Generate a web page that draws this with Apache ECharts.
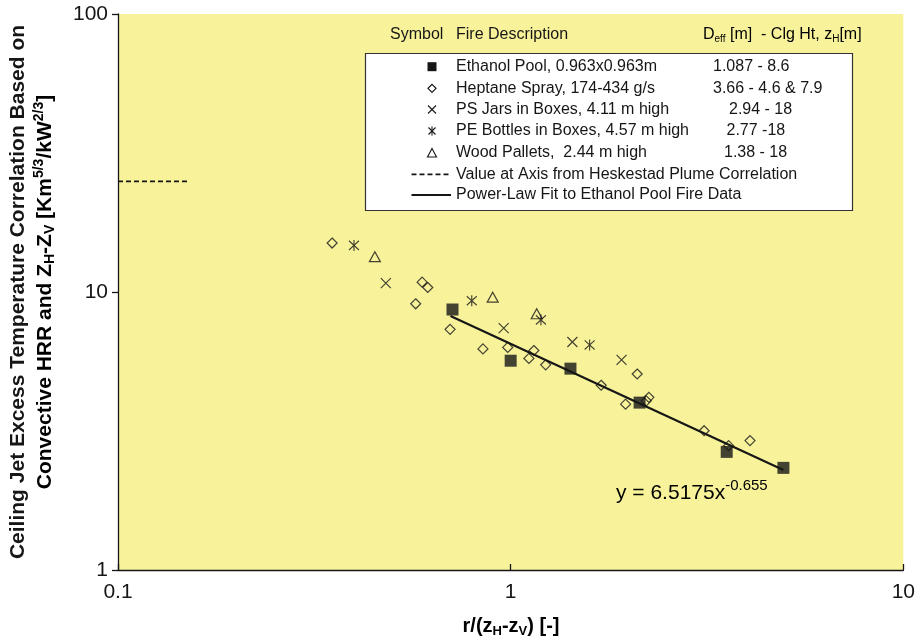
<!DOCTYPE html>
<html><head><meta charset="utf-8">
<script src="https://cdn.jsdelivr.net/npm/echarts@6/dist/echarts.min.js"></script>
<style>html,body{margin:0;padding:0;background:#fff}#c{width:918px;height:640px}</style>
</head><body><div id="c"></div>
<script>
// Data
const ethanolX = [0.711, 1.0, 1.42, 2.13, 3.55, 4.95];
const ethanolY = [8.65, 5.66, 5.30, 4.00, 2.66, 2.33];
const heptaneX = [0.351, 0.595, 0.615, 0.573, 0.701, 0.850, 0.983, 1.146, 1.113, 1.228, 1.70, 2.10, 1.962, 2.249, 2.215, 3.11, 3.59, 4.07];
const heptaneY = [15.0, 10.85, 10.38, 9.07, 7.34, 6.24, 6.32, 6.16, 5.77, 5.47, 4.62, 5.07, 3.95, 4.18, 4.06, 3.17, 2.80, 2.92];
const psX = [0.481, 0.960, 1.436, 1.916];
const psY = [10.76, 7.41, 6.61, 5.70];
const peX = [0.399, 0.796, 1.194, 1.589];
const peY = [14.71, 9.30, 7.94, 6.45];
const woodX = [0.451, 0.900, 1.165];
const woodY = [13.4, 9.58, 8.35];
const heskX = [0.1, 0.15];
const heskY = [25, 25];
const fitX = [0.7026, 4.95];
const fitY = [8.19, 2.29];
const xTicks = [0.1, 1, 10];
const yTicks = [1, 10, 100];
const legendRows = [
  ['Ethanol Pool, 0.963x0.963m', '1.087 - 8.6'],
  ['Heptane Spray, 174-434 g/s', '3.66 - 4.6 & 7.9'],
  ['PS Jars in Boxes, 4.11 m high', '2.94 - 18'],
  ['PE Bottles in Boxes, 4.57 m high', '2.77 -18'],
  ['Wood Pallets,  2.44 m high', '1.38 - 18'],
  ['Value at Axis from Heskestad Plume Correlation', ''],
  ['Power-Law Fit to Ethanol Pool Fire Data', '']
];

const zip = (a, b) => a.map((v, i) => [v, b[i]]);
const FONT = '"Liberation Sans", Arial, Helvetica, sans-serif';
const INK = '#161616';
const crossPath = 'path://M0,0L10,10M10,0L0,10';
const starPath = 'path://M0,0L10,10M10,0L0,10M5,-1L5,11';

const chart = echarts.init(document.getElementById('c'), null, {renderer: 'canvas'});

const rowY = [66.7, 88.3, 109.5, 131, 153, 174.3, 195];
const rangeX = [713, 713, 729, 726.5, 724];
const symX = 432;
const LF = '16px ' + FONT;
const g = [];
g.push({type: 'rect', shape: {x: 365.5, y: 53.5, width: 487, height: 157}, style: {fill: '#fff', stroke: '#333', lineWidth: 1.2}, z: 10});
g.push({type: 'text', x: 390, y: 35, style: {text: 'Symbol', font: LF, fill: INK, verticalAlign: 'middle'}, z: 11});
g.push({type: 'text', x: 456, y: 35, style: {text: 'Fire Description', font: LF, fill: INK, verticalAlign: 'middle'}, z: 11});
g.push({type: 'text', x: 703, y: 35, style: {
  text: '{n|D}{s|eff}{n| [m]  - Clg Ht, z}{s|H}{n|[m]}', verticalAlign: 'middle',
  rich: {n: {fontSize: 16, fontFamily: FONT, color: INK}, s: {fontSize: 10, fontFamily: FONT, color: INK, padding: [9, 0, 0, 0]}}
}, z: 11});
legendRows.forEach((r, i) => {
  g.push({type: 'text', x: 456, y: rowY[i], style: {text: r[0], font: LF, fill: INK, verticalAlign: 'middle'}, z: 11});
  if (r[1]) g.push({type: 'text', x: rangeX[i], y: rowY[i], style: {text: r[1], font: LF, fill: INK, verticalAlign: 'middle'}, z: 11});
});
// legend symbols
g.push({type: 'rect', shape: {x: symX - 4.5, y: rowY[0] - 4.5, width: 9, height: 9}, style: {fill: INK}, z: 11});
g.push({type: 'polygon', shape: {points: [[symX, rowY[1] - 4], [symX + 4, rowY[1]], [symX, rowY[1] + 4], [symX - 4, rowY[1]]]}, style: {fill: 'none', stroke: INK, lineWidth: 1.2}, z: 11});
g.push({type: 'polyline', shape: {points: [[symX - 4, rowY[2] - 4], [symX + 4, rowY[2] + 4]]}, style: {stroke: INK, lineWidth: 1.1}, z: 11});
g.push({type: 'polyline', shape: {points: [[symX + 4, rowY[2] - 4], [symX - 4, rowY[2] + 4]]}, style: {stroke: INK, lineWidth: 1.1}, z: 11});
g.push({type: 'polyline', shape: {points: [[symX - 3.5, rowY[3] - 3.5], [symX + 3.5, rowY[3] + 3.5]]}, style: {stroke: INK, lineWidth: 1.1}, z: 11});
g.push({type: 'polyline', shape: {points: [[symX + 3.5, rowY[3] - 3.5], [symX - 3.5, rowY[3] + 3.5]]}, style: {stroke: INK, lineWidth: 1.1}, z: 11});
g.push({type: 'polyline', shape: {points: [[symX, rowY[3] - 4.5], [symX, rowY[3] + 4.5]]}, style: {stroke: INK, lineWidth: 1.1}, z: 11});
g.push({type: 'polygon', shape: {points: [[symX, rowY[4] - 4.5], [symX + 4.5, rowY[4] + 4], [symX - 4.5, rowY[4] + 4]]}, style: {fill: 'none', stroke: INK, lineWidth: 1.1}, z: 11});
g.push({type: 'polyline', shape: {points: [[411.5, rowY[5]], [451, rowY[5]]]}, style: {stroke: INK, lineWidth: 1.8, lineDash: [5, 3]}, z: 11});
g.push({type: 'polyline', shape: {points: [[411.5, rowY[6]], [451, rowY[6]]]}, style: {stroke: INK, lineWidth: 2}, z: 11});
// equation
g.push({type: 'text', x: 616, y: 493, style: {
  text: '{a|y = 6.5175x}{b|-0.655}', verticalAlign: 'middle',
  rich: {a: {fontSize: 21, fontFamily: FONT, color: INK}, b: {fontSize: 15, fontFamily: FONT, color: INK, padding: [0, 0, 14, 0]}}
}, z: 11});
// y axis title (two lines)
g.push({type: 'text', x: 18, y: 292, rotation: Math.PI / 2, style: {
  text: 'Ceiling Jet Excess Temperature Correlation Based on', font: 'bold 21px ' + FONT, fill: INK, align: 'center', verticalAlign: 'middle'}, z: 11});
g.push({type: 'text', x: 45, y: 292, rotation: Math.PI / 2, style: {
  text: '{n|Convective HRR and Z}{s|H}{n|-Z}{s|V}{n| [Km}{p|5/3}{n|/kW}{p|2/3}{n|]}', align: 'center', verticalAlign: 'middle',
  rich: {n: {fontSize: 21, fontWeight: 'bold', fontFamily: FONT, color: INK},
         s: {fontSize: 14, fontWeight: 'bold', fontFamily: FONT, color: INK, padding: [10, 0, 0, 0]},
         p: {fontSize: 14, fontWeight: 'bold', fontFamily: FONT, color: INK, padding: [0, 0, 11, 0]}}
}, z: 11});
// x axis title
g.push({type: 'text', x: 511, y: 626, style: {
  text: '{n|r/(z}{s|H}{n|-z}{s|V}{n|) [-]}', align: 'center', verticalAlign: 'middle',
  rich: {n: {fontSize: 20, fontWeight: 'bold', fontFamily: FONT, color: INK},
         s: {fontSize: 13, fontWeight: 'bold', fontFamily: FONT, color: INK, padding: [10, 0, 0, 0]}}
}, z: 11});

const sym = {color: 'transparent', borderColor: INK, borderWidth: 1.2};
chart.setOption({
  animation: false,
  grid: {left: 118, right: 14, top: 14, bottom: 70, show: true, backgroundColor: '#f8f39b', borderWidth: 0},
  xAxis: {type: 'log', logBase: 10, min: 0.1, max: 10,
    axisLine: {show: true, lineStyle: {color: INK, width: 1.3}},
    axisTick: {show: true, inside: true, length: 6, lineStyle: {color: INK, width: 1.3}},
    minorTick: {show: false}, splitLine: {show: false},
    axisLabel: {margin: 12, fontSize: 21, fontFamily: FONT, color: INK,
      formatter: v => { const t = xTicks.find(k => Math.abs(k - v) / k < 1e-6); return t === undefined ? '' : String(t); }}},
  yAxis: {type: 'log', logBase: 10, min: 1, max: 100,
    axisLine: {show: true, lineStyle: {color: INK, width: 1.3}},
    axisTick: {show: true, inside: false, length: 6, lineStyle: {color: INK, width: 1.3}},
    splitLine: {show: false},
    axisLabel: {margin: 10, fontSize: 21, fontFamily: FONT, color: INK,
      formatter: v => { const t = yTicks.find(k => Math.abs(k - v) / k < 1e-6); return t === undefined ? '' : String(t); }}},
  series: [
    {name: 'Heskestad', type: 'line', data: zip(heskX, heskY), symbol: 'none', lineStyle: {color: INK, width: 1.8, type: [5, 3]}, z: 3},
    {name: 'Fit', type: 'line', data: zip(fitX, fitY), symbol: 'none', lineStyle: {color: INK, width: 2.2}, z: 3},
    {name: 'Heptane', type: 'scatter', data: zip(heptaneX, heptaneY), symbol: 'diamond', symbolSize: 10, itemStyle: sym, z: 4},
    {name: 'PS', type: 'scatter', data: zip(psX, psY), symbol: crossPath, symbolSize: 10, itemStyle: sym, z: 4},
    {name: 'PE', type: 'scatter', data: zip(peX, peY), symbol: starPath, symbolSize: [10, 11], itemStyle: sym, z: 4},
    {name: 'Wood', type: 'scatter', data: zip(woodX, woodY), symbol: 'triangle', symbolSize: [11, 10], itemStyle: sym, z: 4},
    {name: 'Ethanol', type: 'scatter', data: zip(ethanolX, ethanolY), symbol: 'rect', symbolSize: 12, itemStyle: {color: INK}, z: 5}
  ],
  graphic: g
});
</script></body></html>
